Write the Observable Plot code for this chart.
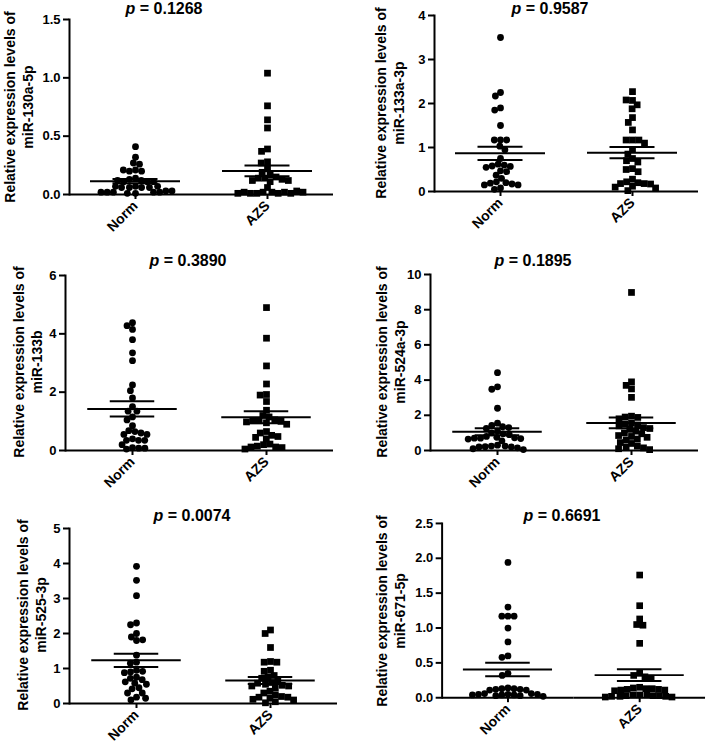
<!DOCTYPE html>
<html>
<head>
<meta charset="utf-8">
<script src="https://cdn.jsdelivr.net/npm/d3@7"></script>
<script src="https://cdn.jsdelivr.net/npm/@observablehq/plot@0.6"></script>
<style>
  body { margin: 0; background: #fff; }
  #fig { position: relative; width: 709px; height: 744px; overflow: hidden; background: #fff;
         font-family: "Liberation Sans", Arial, sans-serif; font-weight: bold; color: #000; }
  .panel { position: absolute; }
  .title { position: absolute; font-size: 16px; line-height: 18px; white-space: nowrap; transform: translateX(-50%); }
  .ylab { position: absolute; font-size: 14px; line-height: 18px; white-space: nowrap; text-align: center;
          transform: translate(-50%, -50%) rotate(-90deg); }
</style>
</head>
<body>
<div id="fig"></div>
<script>
// ---------- data ----------
const groups = ["Norm", "AZS"];
const genes = ["miR-130a-5p", "miR-133a-3p", "miR-133b", "miR-524a-3p", "miR-525-3p", "miR-671-5p"];
const pValues = ["0.1268", "0.9587", "0.3890", "0.1895", "0.0074", "0.6691"];
const yMax = [1.5, 4, 6, 10, 5, 2.5];
const yTicks = [
  [0, 0.5, 1.0, 1.5],
  [0, 1, 2, 3, 4],
  [0, 2, 4, 6],
  [0, 2, 4, 6, 8, 10],
  [0, 1, 2, 3, 4, 5],
  [0, 0.5, 1.0, 1.5, 2.0, 2.5]
];
const yTickDecimals = [1, 0, 0, 0, 0, 1];

const norm130a = [0.41, 0.32, 0.27, 0.26, 0.21, 0.20, 0.20, 0.21, 0.14, 0.13, 0.12, 0.11, 0.11, 0.11, 0.12, 0.07, 0.06, 0.06, 0.07, 0.06, 0.06, 0.07, 0.02, 0.02, 0.01, 0.02, 0.02, 0.03, 0.01, 0.02, 0.03];
const azs130a  = [1.04, 0.76, 0.64, 0.57, 0.39, 0.37, 0.28, 0.27, 0.22, 0.19, 0.17, 0.15, 0.14, 0.14, 0.13, 0.12, 0.12, 0.11, 0.06, 0.02, 0.02, 0.01, 0.01, 0.01, 0.02, 0.01, 0.02, 0.01, 0.03, 0.02];

const norm133a = [3.5, 2.25, 2.17, 1.9, 1.85, 1.5, 1.17, 1.17, 1.17, 1.03, 0.95, 0.75, 0.62, 0.6, 0.58, 0.57, 0.55, 0.47, 0.45, 0.37, 0.3, 0.22, 0.2, 0.19, 0.17, 0.15, 0.15, 0.08, 0.05];
const azs133a  = [2.27, 2.07, 2.08, 1.97, 1.88, 1.68, 1.57, 1.4, 1.17, 1.17, 1.17, 1.1, 0.95, 0.85, 0.75, 0.7, 0.67, 0.52, 0.5, 0.45, 0.28, 0.22, 0.2, 0.18, 0.18, 0.17, 0.12, 0.1, 0.08, 0.02];

const norm133b = [4.38, 4.28, 4.15, 3.8, 3.35, 3.08, 2.25, 2.05, 1.8, 1.5, 1.35, 1.35, 1.15, 1.05, 0.85, 0.68, 0.65, 0.6, 0.55, 0.55, 0.4, 0.35, 0.35, 0.35, 0.2, 0.1, 0.08, 0.08, 0.05];
const azs133b  = [4.9, 3.85, 2.9, 2.28, 1.92, 1.9, 1.68, 1.38, 1.2, 1.15, 1.05, 1.02, 1.02, 1.0, 0.98, 0.95, 0.9, 0.65, 0.6, 0.52, 0.48, 0.45, 0.4, 0.22, 0.2, 0.15, 0.12, 0.12, 0.1, 0.05];

const norm524a = [4.42, 3.62, 3.48, 2.4, 1.55, 1.42, 1.35, 1.3, 1.25, 1.1, 1.0, 0.95, 0.9, 0.8, 0.75, 0.72, 0.7, 0.7, 0.68, 0.65, 0.55, 0.3, 0.25, 0.25, 0.22, 0.2, 0.2, 0.15, 0.1, 0.05];
const azs524a  = [8.98, 3.9, 3.7, 3.5, 3.02, 1.95, 1.9, 1.88, 1.8, 1.55, 1.5, 1.45, 1.4, 1.3, 1.25, 1.2, 1.1, 1.0, 0.95, 0.85, 0.8, 0.75, 0.65, 0.6, 0.45, 0.4, 0.25, 0.2, 0.15, 0.1, 0.05];

const norm525 = [3.92, 3.52, 3.08, 2.3, 2.25, 2.0, 1.9, 1.8, 1.82, 1.38, 1.18, 1.15, 0.95, 0.9, 0.92, 0.88, 0.75, 0.72, 0.68, 0.62, 0.58, 0.55, 0.45, 0.42, 0.3, 0.3, 0.18, 0.15, 0.1];
const azs525  = [2.1, 2.0, 1.6, 1.2, 1.18, 1.18, 0.95, 0.92, 0.8, 0.75, 0.72, 0.65, 0.6, 0.58, 0.55, 0.52, 0.5, 0.5, 0.45, 0.35, 0.3, 0.25, 0.2, 0.18, 0.18, 0.15, 0.12, 0.1, 0.05, 0.02];

const norm671 = [1.94, 1.3, 1.17, 1.17, 1.17, 1.0, 0.8, 0.6, 0.58, 0.35, 0.32, 0.14, 0.13, 0.13, 0.12, 0.12, 0.11, 0.11, 0.06, 0.06, 0.05, 0.05, 0.05, 0.04, 0.04, 0.04, 0.03, 0.03, 0.02];
const azs671  = [1.76, 1.32, 1.13, 1.05, 1.04, 0.78, 0.35, 0.32, 0.3, 0.28, 0.15, 0.14, 0.13, 0.13, 0.12, 0.12, 0.11, 0.11, 0.1, 0.04, 0.04, 0.04, 0.03, 0.03, 0.03, 0.02, 0.02, 0.02, 0.01, 0.01];

const normSeries = [norm130a, norm133a, norm133b, norm524a, norm525, norm671];
const azsSeries  = [azs130a, azs133a, azs133b, azs524a, azs525, azs671];

// ---------- layout (page pixels) ----------
const layout = [
  {L: 69,  R: 333, T: 19,  B: 194, tx: 164, ty: 0,   lx: 18.5,  ly: 107},
  {L: 434, R: 698, T: 15,  B: 191, tx: 550, ty: 0,   lx: 389.5, ly: 103},
  {L: 64,  R: 333, T: 275, B: 450, tx: 188, ty: 252, lx: 27.5,  ly: 362},
  {L: 429, R: 698, T: 274, B: 450, tx: 533, ty: 252, lx: 390.5, ly: 362},
  {L: 68,  R: 337, T: 528, B: 703, tx: 192, ty: 507, lx: 31.5,  ly: 615},
  {L: 442, R: 708, T: 523, B: 699, tx: 562, ty: 507, lx: 390.5, ly: 611}
];

const fig = document.getElementById("fig");
const mean = a => d3.mean(a);
const sem = a => d3.deviation(a) / Math.sqrt(a.length);

genes.forEach((gene, k) => {
  const lay = layout[k];
  const mL = 40, mR = 4, mT = 6, mB = 60;
  const W = lay.R - lay.L, H = lay.B - lay.T;
  const bw = W / groups.length;
  const normData = normSeries[k].map(v => ({g: "Norm", v}));
  const azsData = azsSeries[k].map(v => ({g: "AZS", v}));
  const all = normData.concat(azsData);
  const meanInset = (bw - 90) / 2;
  const capInset = (bw - 45) / 2;

  const chart = Plot.plot({
    width: W + mL + mR,
    height: H + mT + mB,
    marginLeft: mL, marginRight: mR, marginTop: mT, marginBottom: mB,
    style: {fontFamily: "'Liberation Sans', Arial, sans-serif", fontWeight: "bold", color: "#000", background: "transparent", overflow: "visible"},
    fx: {domain: groups, padding: 0, label: null},
    y: {domain: [0, yMax[k]], label: null},
    marks: [
      Plot.axisY({ticks: yTicks[k], tickFormat: d3.format("." + yTickDecimals[k] + "f"), tickSize: 6, tickPadding: 3, fontSize: 13, strokeWidth: 2, label: null}),
      Plot.axisFx({anchor: "bottom", tickRotate: -45, tickSize: 5, tickPadding: 4, fontSize: 14, strokeWidth: 2, label: null}),
      Plot.frame({anchor: "left", facetAnchor: "left", strokeWidth: 2}),
      Plot.ruleY([0], {strokeWidth: 2}),
      Plot.dot(normData, Plot.dodgeX({anchor: "middle", padding: 0, r: 3.1}, {y: "v", fx: "g", r: 3.4, fill: "#000", symbol: "circle"})),
      Plot.dot(azsData, Plot.dodgeX({anchor: "middle", padding: 0, r: 3.2}, {y: "v", fx: "g", r: 3.8, fill: "#000", symbol: "square"})),
      Plot.ruleY(all, Plot.groupZ({y: mean}, {y: "v", fx: "g", strokeWidth: 2, insetLeft: meanInset, insetRight: meanInset})),
      Plot.ruleY(all, Plot.groupZ({y: a => mean(a) + sem(a)}, {y: "v", fx: "g", strokeWidth: 2, insetLeft: capInset, insetRight: capInset})),
      Plot.ruleY(all, Plot.groupZ({y: a => mean(a) - sem(a)}, {y: "v", fx: "g", strokeWidth: 2, insetLeft: capInset, insetRight: capInset})),
      Plot.ruleX(all, Plot.groupZ({y1: a => mean(a) - sem(a), y2: a => mean(a) + sem(a)}, {y1: "v", y2: "v", fx: "g", strokeWidth: 2}))
    ]
  });

  const holder = document.createElement("div");
  holder.className = "panel";
  holder.style.left = (lay.L - mL) + "px";
  holder.style.top = (lay.T - mT) + "px";
  holder.appendChild(chart);
  fig.appendChild(holder);

  const title = document.createElement("div");
  title.className = "title";
  title.style.left = lay.tx + "px";
  title.style.top = lay.ty + "px";
  title.innerHTML = "<i>p</i> = " + pValues[k];
  fig.appendChild(title);

  const ylab = document.createElement("div");
  ylab.className = "ylab";
  ylab.style.left = lay.lx + "px";
  ylab.style.top = lay.ly + "px";
  ylab.innerHTML = "Relative expression levels of<br>" + gene;
  fig.appendChild(ylab);
});
</script>
</body>
</html>
